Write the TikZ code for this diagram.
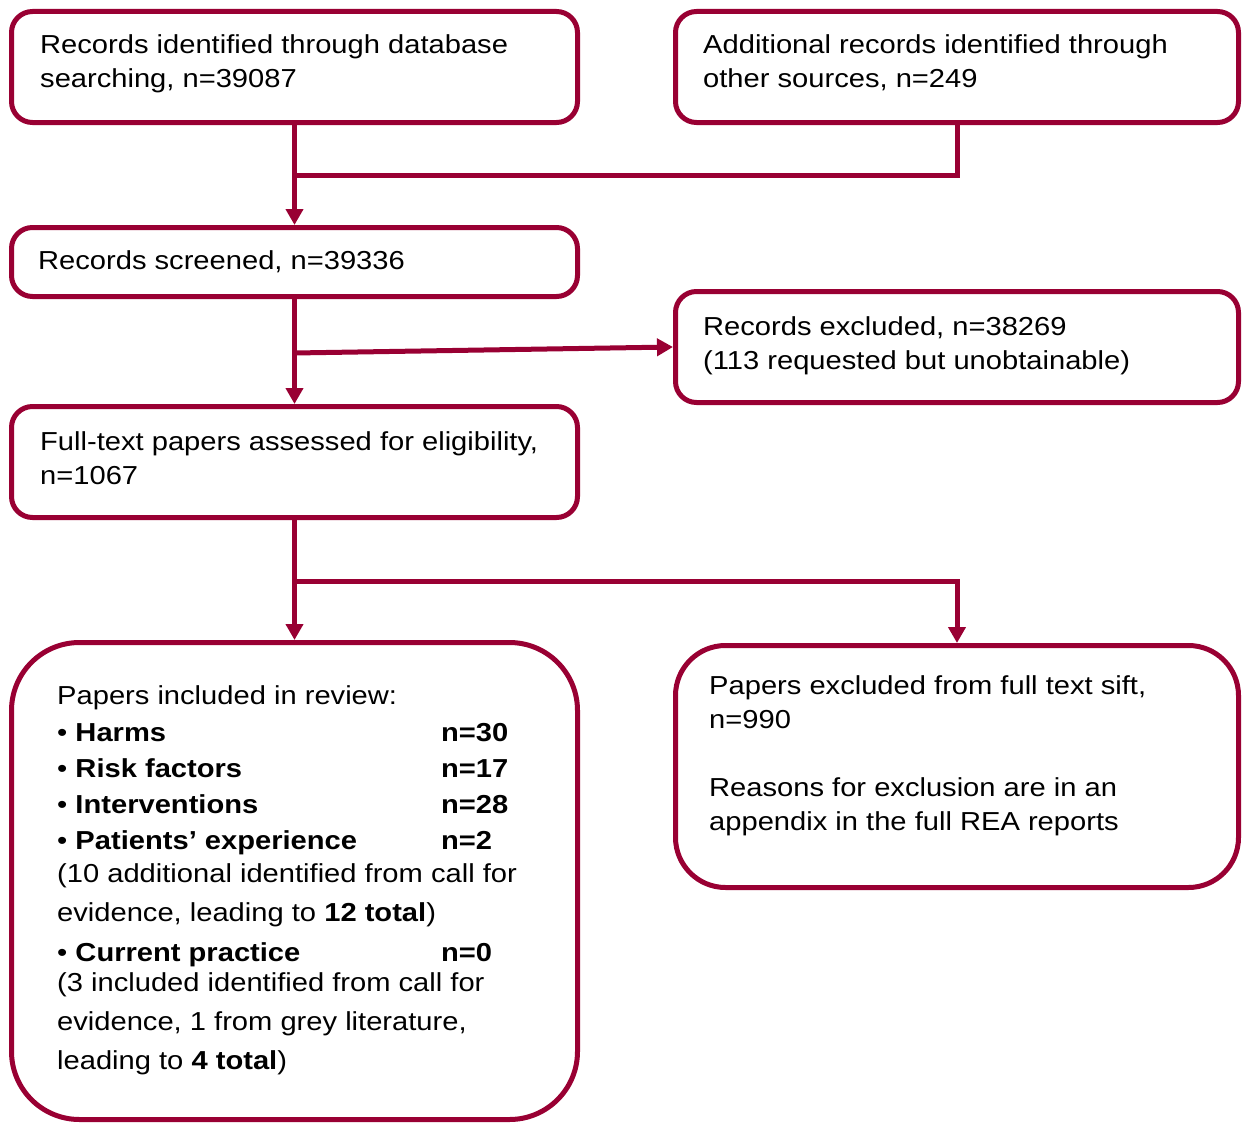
\documentclass[tikz,border=0pt]{standalone}
\usepackage{fontspec}
\setmainfont{Liberation Sans}[FakeStretch=1.12]
\usetikzlibrary{arrows.meta}
\definecolor{crim}{RGB}{153,0,51}
\begin{document}
\begin{tikzpicture}[x=1pt,y=-1pt,
  box/.style={draw=crim, line width=5pt, rounded corners=21pt, inner sep=0pt},
  txt/.style={anchor=base west, align=left, inner sep=0pt, font=\fontsize{26}{34}\selectfont},
  ftxt/.style={anchor=base west, align=left, inner sep=0pt, font=\fontsize{26}{36}\selectfont},
  arr/.style={draw=crim, line width=5pt, -{Triangle[length=16pt,width=17pt]}},
  ln/.style={draw=crim, line width=5pt}]
\useasboundingbox (0,0) rectangle (1243,1124);

% boxes
\node[box, minimum width=566pt, minimum height=111pt] (A) at (294.5,67) {};
\node[box, minimum width=563pt, minimum height=111pt] (B) at (957,67) {};
\node[box, minimum width=566pt, minimum height=69pt] (C) at (294.5,262) {};
\node[box, minimum width=566pt, minimum height=111pt] (D) at (294.5,462) {};
\node[box, minimum width=563pt, minimum height=111pt] (E) at (957,347) {};
\node[box, rounded corners=68pt, minimum width=566pt, minimum height=477pt] (F) at (294.5,881) {};
\node[box, rounded corners=50pt, minimum width=563pt, minimum height=242pt] (G) at (957,766.5) {};

% texts (base anchor = baseline of the last line)
\node[txt] (At) at (40,88) {Records identified through database\\searching, n=39087};
\node[txt] (Bt) at (703,88) {Additional records identified through\\other sources, n=249};
\node[txt] (Ct) at (38,269) {Records screened, n=39336};
\node[txt] (Dt) at (40,484) {Full-text papers assessed for eligibility,\\n=1067};
\node[txt] (Et) at (703,369) {Records excluded, n=38269\\(113 requested but unobtainable)};
\node[txt] (Gt) at (709,830) {Papers excluded from full text sift,\\n=990\\[34pt]Reasons for exclusion are in an\\appendix in the full REA reports};
\node[ftxt] (Ft) at (57,1069) {Papers included in review:\\[1pt]
\makebox[384pt][l]{•~\textbf{Harms}}\textbf{n=30}\\
\makebox[384pt][l]{•~\textbf{Risk factors}}\textbf{n=17}\\
\makebox[384pt][l]{•~\textbf{Interventions}}\textbf{n=28}\\
\makebox[384pt][l]{•~\textbf{Patients’ experience}}\textbf{n=2}\\[-3pt]
(10 additional identified from call for\\[3pt]
evidence, leading to \textbf{12 total})\\[4pt]
\makebox[384pt][l]{•~\textbf{Current practice}}\textbf{n=0}\\[-6pt]
(3 included identified from call for\\[3pt]
evidence, 1 from grey literature,\\[3pt]
leading to \textbf{4 total})};

% connectors
\coordinate (j1) at (294.5,175);
\coordinate (j2) at (294.5,353);
\coordinate (j3) at (294.5,581);
\draw[arr] (A.south) -- (C.north);
\draw[ln] (B.south) |- (j1);
\draw[arr] (C.south) -- (D.north);
\draw[arr] (j2) -- (E.west);
\draw[arr] (D.south) -- (F.north);
\draw[arr] (j3) -| (G.north);
\end{tikzpicture}
\end{document}
